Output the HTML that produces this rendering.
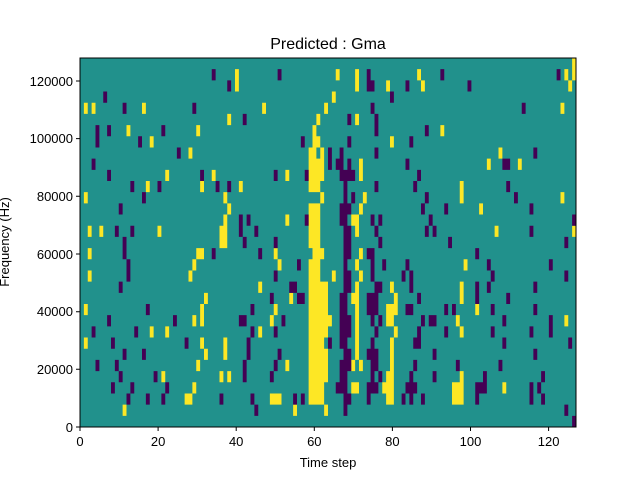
<!DOCTYPE html>
<html><head><style>
body{margin:0;background:#fff;}
svg{display:block;font-family:"Liberation Sans","DejaVu Sans",sans-serif;}
</style></head><body>
<svg width="640" height="480" xmlns="http://www.w3.org/2000/svg">
<rect width="640" height="480" fill="#fff"/>
<text x="328" y="49" font-size="16" text-anchor="middle">Predicted : Gma</text>
<svg x="80" y="58" width="496" height="369" viewBox="0 0 128 33" preserveAspectRatio="none">
<rect x="0" y="0" width="128" height="33" fill="#21918c"/>
<path fill="#fde725" d="
M127 0h1v1h-1z
M40 1h1v1h-1zM66 1h1v1h-1zM71 1h1v1h-1zM87 1h1v1h-1zM125 1h1v1h-1zM127 1h1v1h-1z
M40 2h1v1h-1zM71 2h1v1h-1zM79 2h1v1h-1zM88 2h1v1h-1zM126 2h1v1h-1z
M65 3h1v1h-1z
M1 4h1v1h-1zM3 4h1v1h-1zM16 4h1v1h-1zM47 4h1v1h-1zM63 4h1v1h-1zM124 4h1v1h-1z
M38 5h1v1h-1zM61 5h1v1h-1zM71 5h1v1h-1z
M12 6h1v1h-1zM30 6h1v1h-1zM60 6h1v1h-1zM93 6h1v1h-1z
M18 7h1v1h-1zM60 7h2v1h-2zM80 7h1v1h-1z
M28 8h1v1h-1zM59 8h2v1h-2zM62 8h1v1h-1zM108 8h1v1h-1z
M59 9h4v1h-4zM72 9h1v1h-1zM105 9h1v1h-1zM113 9h1v1h-1z
M22 10h1v1h-1zM34 10h1v1h-1zM53 10h1v1h-1zM59 10h4v1h-4zM72 10h1v1h-1z
M17 11h1v1h-1zM31 11h1v1h-1zM41 11h1v1h-1zM59 11h3v1h-3zM98 11h1v1h-1z
M1 12h1v1h-1zM37 12h1v1h-1zM62 12h1v1h-1zM73 12h1v1h-1zM98 12h1v1h-1zM124 12h1v1h-1z
M38 13h1v1h-1zM59 13h3v1h-3zM72 13h1v1h-1zM103 13h1v1h-1z
M37 14h1v1h-1zM53 14h1v1h-1zM59 14h3v1h-3zM70 14h2v1h-2z
M2 15h1v1h-1zM5 15h1v1h-1zM20 15h1v1h-1zM36 15h2v1h-2zM59 15h3v1h-3zM71 15h1v1h-1zM107 15h1v1h-1zM127 15h1v1h-1z
M36 16h2v1h-2zM59 16h3v1h-3z
M2 17h1v1h-1zM30 17h2v1h-2zM50 17h1v1h-1zM60 17h3v1h-3zM72 17h1v1h-1z
M29 18h1v1h-1zM51 18h1v1h-1zM59 18h3v1h-3zM71 18h1v1h-1zM99 18h1v1h-1z
M2 19h1v1h-1zM28 19h1v1h-1zM59 19h3v1h-3zM65 19h1v1h-1zM72 19h1v1h-1z
M46 20h1v1h-1zM59 20h5v1h-5zM71 20h1v1h-1zM80 20h1v1h-1zM98 20h1v1h-1z
M32 21h1v1h-1zM54 21h1v1h-1zM59 21h5v1h-5zM70 21h2v1h-2zM81 21h1v1h-1zM98 21h1v1h-1z
M1 22h1v1h-1zM31 22h1v1h-1zM50 22h1v1h-1zM59 22h5v1h-5zM71 22h1v1h-1zM79 22h3v1h-3zM102 22h1v1h-1z
M29 23h1v1h-1zM31 23h1v1h-1zM49 23h1v1h-1zM59 23h6v1h-6zM71 23h1v1h-1zM79 23h2v1h-2zM97 23h1v1h-1zM125 23h1v1h-1z
M18 24h1v1h-1zM22 24h1v1h-1zM46 24h1v1h-1zM59 24h5v1h-5zM71 24h1v1h-1zM81 24h1v1h-1zM98 24h1v1h-1z
M1 25h1v1h-1zM31 25h1v1h-1zM37 25h1v1h-1zM59 25h4v1h-4zM71 25h1v1h-1zM80 25h1v1h-1z
M32 26h1v1h-1zM37 26h1v1h-1zM59 26h5v1h-5zM71 26h1v1h-1zM80 26h1v1h-1z
M30 27h1v1h-1zM53 27h1v1h-1zM59 27h5v1h-5zM70 27h1v1h-1zM72 27h1v1h-1zM80 27h1v1h-1z
M21 28h1v1h-1zM36 28h1v1h-1zM38 28h1v1h-1zM59 28h5v1h-5zM79 28h2v1h-2zM98 28h1v1h-1z
M29 29h1v1h-1zM59 29h4v1h-4zM70 29h2v1h-2zM78 29h3v1h-3zM96 29h3v1h-3zM109 29h1v1h-1z
M27 30h2v1h-2zM49 30h3v1h-3zM59 30h4v1h-4zM79 30h2v1h-2zM96 30h3v1h-3z
M11 31h1v1h-1zM55 31h1v1h-1zM63 31h1v1h-1z"/>
<path fill="#440154" d="
M34 1h1v1h-1zM51 1h1v1h-1zM74 1h1v1h-1zM93 1h1v1h-1zM123 1h1v1h-1z
M38 2h1v1h-1zM74 2h2v1h-2zM84 2h1v1h-1zM100 2h1v1h-1z
M6 3h1v1h-1zM80 3h1v1h-1z
M11 4h1v1h-1zM29 4h1v1h-1zM75 4h1v1h-1zM114 4h1v1h-1z
M42 5h1v1h-1zM69 5h1v1h-1zM76 5h1v1h-1z
M4 6h1v1h-1zM7 6h1v1h-1zM21 6h1v1h-1zM76 6h1v1h-1zM89 6h1v1h-1z
M4 7h1v1h-1zM15 7h1v1h-1zM57 7h1v1h-1zM69 7h1v1h-1zM85 7h1v1h-1z
M25 8h1v1h-1zM64 8h1v1h-1zM67 8h1v1h-1zM76 8h1v1h-1zM117 8h1v1h-1z
M3 9h1v1h-1zM64 9h1v1h-1zM66 9h2v1h-2zM69 9h1v1h-1zM84 9h1v1h-1zM109 9h2v1h-2z
M7 10h1v1h-1zM31 10h1v1h-1zM50 10h1v1h-1zM58 10h1v1h-1zM67 10h4v1h-4zM87 10h1v1h-1z
M13 11h1v1h-1zM20 11h1v1h-1zM35 11h1v1h-1zM38 11h1v1h-1zM68 11h1v1h-1zM76 11h1v1h-1zM86 11h1v1h-1zM110 11h1v1h-1z
M16 12h1v1h-1zM68 12h1v1h-1zM70 12h1v1h-1zM89 12h1v1h-1zM112 12h1v1h-1z
M10 13h1v1h-1zM67 13h3v1h-3zM88 13h1v1h-1zM94 13h1v1h-1zM116 13h1v1h-1z
M41 14h1v1h-1zM43 14h1v1h-1zM58 14h1v1h-1zM67 14h2v1h-2zM75 14h1v1h-1zM77 14h1v1h-1zM90 14h1v1h-1zM127 14h1v1h-1z
M9 15h1v1h-1zM13 15h1v1h-1zM41 15h1v1h-1zM45 15h1v1h-1zM68 15h2v1h-2zM76 15h1v1h-1zM89 15h1v1h-1zM91 15h1v1h-1zM116 15h1v1h-1z
M11 16h1v1h-1zM42 16h1v1h-1zM50 16h1v1h-1zM68 16h2v1h-2zM77 16h1v1h-1zM95 16h1v1h-1zM125 16h1v1h-1z
M11 17h1v1h-1zM34 17h1v1h-1zM46 17h1v1h-1zM68 17h2v1h-2zM74 17h2v1h-2zM102 17h1v1h-1z
M12 18h1v1h-1zM56 18h1v1h-1zM68 18h1v1h-1zM75 18h1v1h-1zM78 18h1v1h-1zM84 18h1v1h-1zM105 18h1v1h-1zM121 18h1v1h-1z
M12 19h1v1h-1zM50 19h1v1h-1zM68 19h2v1h-2zM75 19h1v1h-1zM83 19h1v1h-1zM85 19h1v1h-1zM106 19h1v1h-1zM125 19h1v1h-1z
M10 20h1v1h-1zM54 20h2v1h-2zM68 20h2v1h-2zM76 20h2v1h-2zM85 20h1v1h-1zM102 20h1v1h-1zM105 20h1v1h-1zM117 20h1v1h-1z
M49 21h1v1h-1zM56 21h2v1h-2zM67 21h2v1h-2zM74 21h3v1h-3zM87 21h1v1h-1zM102 21h1v1h-1zM110 21h1v1h-1z
M17 22h1v1h-1zM44 22h1v1h-1zM67 22h2v1h-2zM74 22h3v1h-3zM84 22h2v1h-2zM94 22h1v1h-1zM96 22h1v1h-1zM106 22h1v1h-1zM117 22h1v1h-1z
M7 23h1v1h-1zM24 23h1v1h-1zM41 23h2v1h-2zM52 23h1v1h-1zM67 23h3v1h-3zM75 23h1v1h-1zM77 23h1v1h-1zM88 23h1v1h-1zM90 23h2v1h-2zM109 23h1v1h-1zM121 23h1v1h-1z
M3 24h1v1h-1zM14 24h1v1h-1zM44 24h1v1h-1zM50 24h1v1h-1zM67 24h3v1h-3zM76 24h1v1h-1zM87 24h1v1h-1zM94 24h1v1h-1zM106 24h1v1h-1zM116 24h1v1h-1zM121 24h1v1h-1z
M8 25h1v1h-1zM27 25h1v1h-1zM43 25h1v1h-1zM64 25h1v1h-1zM67 25h2v1h-2zM75 25h1v1h-1zM86 25h2v1h-2zM109 25h1v1h-1zM126 25h1v1h-1z
M11 26h1v1h-1zM16 26h1v1h-1zM43 26h1v1h-1zM51 26h1v1h-1zM68 26h2v1h-2zM74 26h3v1h-3zM91 26h1v1h-1zM117 26h1v1h-1z
M4 27h1v1h-1zM9 27h1v1h-1zM42 27h1v1h-1zM50 27h1v1h-1zM67 27h3v1h-3zM75 27h2v1h-2zM86 27h1v1h-1zM97 27h1v1h-1zM108 27h1v1h-1z
M10 28h1v1h-1zM19 28h1v1h-1zM42 28h1v1h-1zM49 28h1v1h-1zM67 28h2v1h-2zM75 28h1v1h-1zM77 28h1v1h-1zM85 28h1v1h-1zM91 28h1v1h-1zM104 28h1v1h-1zM119 28h1v1h-1z
M8 29h1v1h-1zM13 29h1v1h-1zM22 29h1v1h-1zM66 29h3v1h-3zM74 29h3v1h-3zM84 29h3v1h-3zM102 29h3v1h-3zM116 29h1v1h-1zM118 29h1v1h-1z
M12 30h1v1h-1zM17 30h1v1h-1zM21 30h1v1h-1zM36 30h1v1h-1zM44 30h1v1h-1zM55 30h1v1h-1zM57 30h1v1h-1zM68 30h2v1h-2zM74 30h1v1h-1zM83 30h1v1h-1zM85 30h1v1h-1zM88 30h1v1h-1zM102 30h1v1h-1zM116 30h1v1h-1zM119 30h1v1h-1z
M45 31h1v1h-1zM68 31h1v1h-1zM125 31h1v1h-1z
M127 32h1v1h-1z"/>
</svg>
<rect x="80" y="58" width="496" height="369" fill="none" stroke="#000" stroke-width="1"/>
<g font-size="13" fill="#000">
<g text-anchor="middle">
<text x="80" y="446">0</text><text x="158.1" y="446">20</text><text x="236.2" y="446">40</text><text x="314.3" y="446">60</text><text x="392.4" y="446">80</text><text x="470.5" y="446">100</text><text x="548.6" y="446">120</text>
</g>
<path d="M80 427v4M158.1 427v4M236.2 427v4M314.3 427v4M392.4 427v4M470.5 427v4M548.6 427v4" stroke="#000"/>
<path d="M76 427h4M76 369.3h4M76 311.7h4M76 254h4M76 196.3h4M76 138.6h4M76 81h4" stroke="#000"/>
<g text-anchor="end">
<text x="73" y="432">0</text><text x="73" y="374">20000</text><text x="73" y="316">40000</text><text x="73" y="259">60000</text><text x="73" y="201">80000</text><text x="73" y="143">100000</text><text x="73" y="86">120000</text>
</g>
<text x="328" y="467" text-anchor="middle">Time step</text>
<text transform="translate(9,242) rotate(-90)" text-anchor="middle">Frequency (Hz)</text>
</g>
</svg>
</body></html>
